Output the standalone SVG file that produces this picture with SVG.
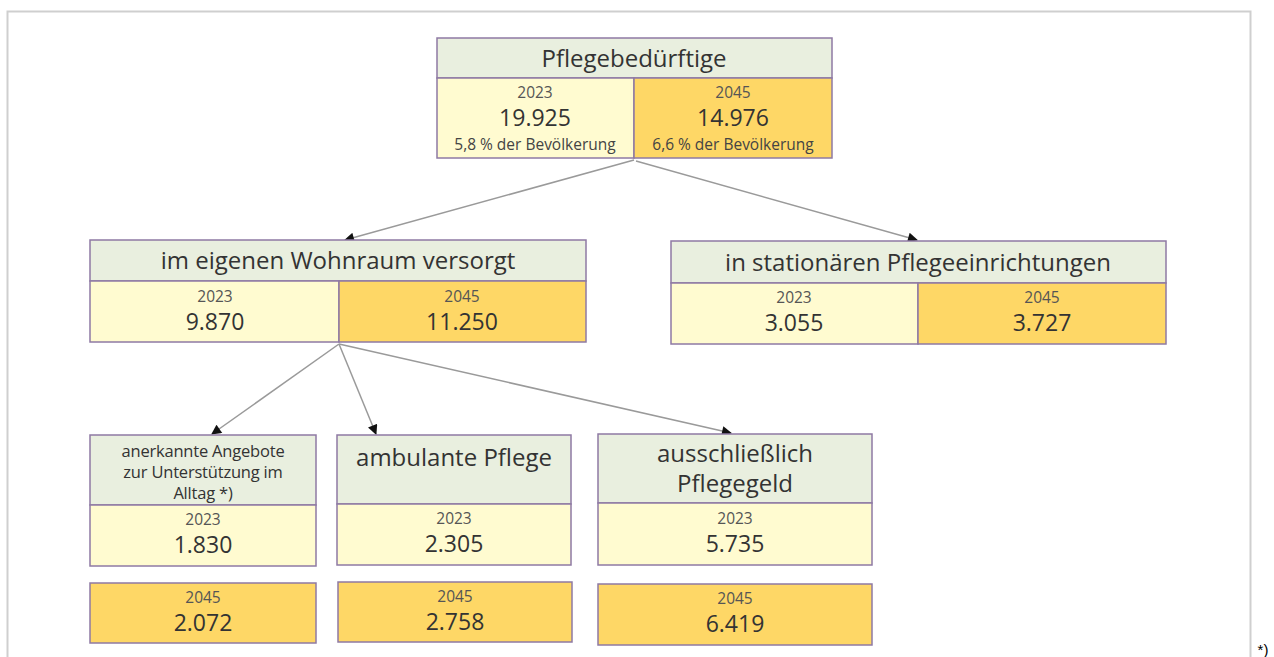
<svg xmlns="http://www.w3.org/2000/svg" width="1274" height="657" viewBox="0 0 1274 657">
<defs>
<style>
.t{fill:#e9efdf;stroke:#8e7aa4;stroke-width:1.5}
.a{fill:#fffbd0;stroke:#8e7aa4;stroke-width:1.5}
.b{fill:#fed766;stroke:#8e7aa4;stroke-width:1.5}
text{font-family:"Open Sans","Noto Sans",sans-serif;fill:#333;text-anchor:middle}
.h{font-size:24px}
.y{font-size:15.5px;fill:#555}
.n{font-size:23px}
.s{font-size:15.5px;fill:#444}
.m{font-size:16.5px;letter-spacing:-0.2px}
.c line{stroke:#9a9a9a;stroke-width:1.5;marker-end:url(#ar)}
</style>
<marker id="ar" viewBox="0 0 10 10" refX="9" refY="5" markerWidth="11" markerHeight="10" markerUnits="userSpaceOnUse" orient="auto"><path d="M0,0L10,5L0,10z" fill="#111"/></marker>
</defs>
<rect width="1274" height="657" fill="#fff"/>
<path d="M7.5,660V11.5H1250.5V660" fill="none" stroke="#cfcfcf" stroke-width="2"/>
<g class="c">
<line x1="634" y1="160" x2="345" y2="240"/>
<line x1="636" y1="161" x2="917" y2="240"/>
<line x1="339" y1="344" x2="212" y2="434"/>
<line x1="339" y1="344" x2="376" y2="434"/>
<line x1="339" y1="344" x2="731" y2="433"/>
</g>
<g id="top">
<rect class="t" x="437" y="38" width="395" height="40"/>
<rect class="a" x="437" y="78" width="197" height="80"/>
<rect class="b" x="634" y="78" width="198" height="80"/>
<text class="h" x="634" y="67">Pflegebedürftige</text>
<text class="y" x="535" y="98">2023</text>
<text class="n" x="535" y="126">19.925</text>
<text class="s" x="535" y="150">5,8 % der Bevölkerung</text>
<text class="y" x="733" y="98">2045</text>
<text class="n" x="733" y="126">14.976</text>
<text class="s" x="733" y="150">6,6 % der Bevölkerung</text>
</g>
<g id="home">
<rect class="t" x="90" y="240" width="496" height="41"/>
<rect class="a" x="90" y="281" width="249" height="61"/>
<rect class="b" x="339" y="281" width="247" height="61"/>
<text class="h" x="338" y="269">im eigenen Wohnraum versorgt</text>
<text class="y" x="215" y="302">2023</text>
<text class="n" x="215" y="330">9.870</text>
<text class="y" x="462" y="302">2045</text>
<text class="n" x="462" y="330">11.250</text>
</g>
<g id="stat">
<rect class="t" x="671" y="241" width="495" height="42"/>
<rect class="a" x="671" y="283" width="247" height="61"/>
<rect class="b" x="918" y="283" width="248" height="61"/>
<text class="h" x="918" y="271">in stationären Pflegeeinrichtungen</text>
<text class="y" x="794" y="303">2023</text>
<text class="n" x="794" y="331">3.055</text>
<text class="y" x="1042" y="303">2045</text>
<text class="n" x="1042" y="331">3.727</text>
</g>
<g id="angebote">
<rect class="t" x="90" y="435" width="226" height="70"/>
<rect class="a" x="90" y="505" width="226" height="61"/>
<text class="m" x="203" y="457">anerkannte Angebote</text>
<text class="m" x="203" y="478">zur Unterstützung im</text>
<text class="m" x="203" y="499">Alltag *)</text>
<text class="y" x="203" y="525">2023</text>
<text class="n" x="203" y="553">1.830</text>
</g>
<g id="angebote2045">
<rect class="b" x="90" y="583" width="226" height="60"/>
<text class="y" x="203" y="603">2045</text>
<text class="n" x="203" y="631">2.072</text>
</g>
<g id="ambulant">
<rect class="t" x="337" y="435" width="234" height="69"/>
<rect class="a" x="337" y="504" width="234" height="61"/>
<text class="h" x="454" y="466">ambulante Pflege</text>
<text class="y" x="454" y="524">2023</text>
<text class="n" x="454" y="552">2.305</text>
</g>
<g id="ambulant2045">
<rect class="b" x="338" y="582" width="234" height="60"/>
<text class="y" x="455" y="602">2045</text>
<text class="n" x="455" y="630">2.758</text>
</g>
<g id="geld">
<rect class="t" x="598" y="434" width="274" height="69"/>
<rect class="a" x="598" y="503" width="274" height="62"/>
<text class="h" x="735" y="462">ausschließlich</text>
<text class="h" x="735" y="492">Pflegegeld</text>
<text class="y" x="735" y="524">2023</text>
<text class="n" x="735" y="552">5.735</text>
</g>
<g id="geld2045">
<rect class="b" x="598" y="584" width="274" height="61"/>
<text class="y" x="735" y="604">2045</text>
<text class="n" x="735" y="632">6.419</text>
</g>
<text x="1263" y="655" style="font-size:15px;font-family:'Liberation Sans',sans-serif;fill:#000">*)</text>
</svg>
